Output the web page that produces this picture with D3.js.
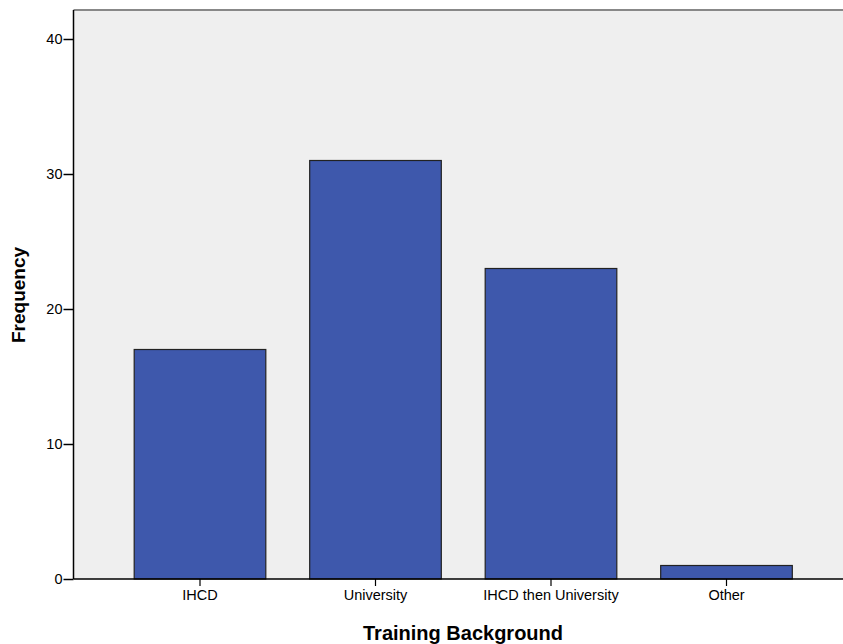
<!DOCTYPE html>
<html>
<head>
<meta charset="utf-8">
<script src="https://cdn.jsdelivr.net/npm/d3@7"></script>
<style>
  body { margin: 0; background: #fff; }
  text { font-family: "Liberation Sans", Arial, sans-serif; fill: #000; }
</style>
</head>
<body>
<svg id="chart" width="843" height="644"></svg>
<script>
var categories = ["IHCD", "University", "IHCD then University", "Other"];
var frequencies = [17, 31, 23, 1];
var yTicks = [0, 10, 20, 30, 40];

var svg = d3.select("#chart"),
    plot = {left: 73.5, top: 10, right: 843, bottom: 579};

var x = d3.scaleBand()
    .domain(categories)
    .range([112.25, 814.25])
    .paddingInner(0.25)
    .paddingOuter(0.125);

var y = d3.scaleLinear()
    .domain([0, 40])
    .range([plot.bottom, plot.bottom - 540]);

// plot background
svg.append("rect")
    .attr("x", plot.left)
    .attr("y", plot.top)
    .attr("width", plot.right - plot.left)
    .attr("height", plot.bottom - plot.top)
    .attr("fill", "#efefef");

svg.append("line")
    .attr("x1", plot.left).attr("x2", plot.right)
    .attr("y1", plot.top).attr("y2", plot.top)
    .attr("stroke", "#888").attr("stroke-width", 2);

var data = categories.map(function(c, i) { return {name: c, value: frequencies[i]}; });

svg.selectAll("rect.bar")
    .data(data)
    .enter()
    .append("rect")
    .attr("class", "bar")
    .attr("x", d => x(d.name))
    .attr("y", d => y(d.value))
    .attr("width", x.bandwidth())
    .attr("height", d => y(0) - y(d.value))
    .attr("fill", "#3e58ac")
    .attr("stroke", "#222")
    .attr("stroke-width", 1.2);

// y axis
var yAxis = svg.append("g")
    .attr("transform", "translate(" + plot.left + ",0)")
    .call(d3.axisLeft(y).tickValues(yTicks).tickSize(10).tickPadding(1).tickSizeOuter(0));
yAxis.select(".domain").attr("d", "M0," + plot.top + "V" + plot.bottom).attr("stroke", "#000").attr("stroke-width", 1.5);
yAxis.selectAll(".tick line").attr("stroke", "#000").attr("stroke-width", 1.5);
yAxis.selectAll("text").style("font-size", "14.5px").attr("fill", "#222");

// x axis
var xAxis = svg.append("g")
    .attr("transform", "translate(0," + plot.bottom + ")")
    .call(d3.axisBottom(x).tickSize(7).tickPadding(4).tickSizeOuter(0));
xAxis.select(".domain").attr("d", "M" + plot.left + ",0H" + plot.right).attr("stroke", "#000").attr("stroke-width", 1.5);
xAxis.selectAll(".tick line").attr("stroke", "#000").attr("stroke-width", 1.2);
xAxis.selectAll("text").style("font-size", "14.5px").attr("fill", "#222");

// axis titles
svg.append("text")
    .attr("transform", "translate(25,295) rotate(-90)")
    .attr("text-anchor", "middle")
    .style("font-size", "19px")
    .style("font-weight", "bold")
    .text("Frequency");

svg.append("text")
    .attr("x", 463)
    .attr("y", 640)
    .attr("text-anchor", "middle")
    .style("font-size", "20px")
    .style("font-weight", "bold")
    .text("Training Background");
</script>
</body>
</html>
